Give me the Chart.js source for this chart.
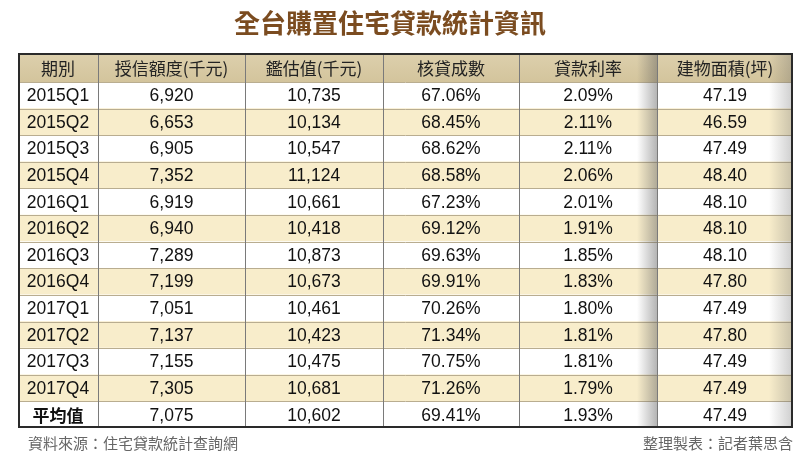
<!DOCTYPE html>
<html>
<head>
<meta charset="utf-8">
<script src="https://cdn.jsdelivr.net/npm/chart.js@4.4.1/dist/chart.umd.min.js"></script>
<style>
  html, body { margin: 0; padding: 0; background: #fff; }
  canvas { display: block; }
</style>
</head>
<body>
<canvas id="loanTable" width="800" height="461"></canvas>
<script>
// Table data
const headers = ['期別', '授信額度(千元)', '鑑估值(千元)', '核貸成數', '貸款利率', '建物面積(坪)'];
const periods = ['2015Q1', '2015Q2', '2015Q3', '2015Q4', '2016Q1', '2016Q2',
    '2016Q3', '2016Q4', '2017Q1', '2017Q2', '2017Q3', '2017Q4', '平均值'];
const creditAmount = [6920, 6653, 6905, 7352, 6919, 6940, 7289, 7199, 7051, 7137, 7155, 7305, 7075];
const appraisalValue = [10735, 10134, 10547, 11124, 10661, 10418, 10873, 10673, 10461, 10423, 10475, 10681, 10602];
const loanToValue = [67.06, 68.45, 68.62, 68.58, 67.23, 69.12, 69.63, 69.91, 70.26, 71.34, 70.75, 71.26, 69.41];
const interestRate = [2.09, 2.11, 2.11, 2.06, 2.01, 1.91, 1.85, 1.83, 1.80, 1.81, 1.81, 1.79, 1.93];
const floorArea = [47.19, 46.59, 47.49, 48.40, 48.10, 48.10, 48.10, 47.80, 47.49, 47.80, 47.49, 47.49, 47.49];

const titleText = '全台購置住宅貸款統計資訊';
const sourceText = '資料來源：住宅貸款統計查詢網';
const authorText = '整理製表：記者葉思含';

// Column boundaries along the x scale (layout, table units)
const colEdges = [0, 80, 227, 365, 501, 639, 775];

function withCommas(n) {
    return String(n).replace(/\B(?=(\d{3})+(?!\d))/g, ',');
}

const columns = [
    periods,
    creditAmount.map(withCommas),
    appraisalValue.map(withCommas),
    loanToValue.map(v => v.toFixed(2) + '%'),
    interestRate.map(v => v.toFixed(2) + '%'),
    floorArea.map(v => v.toFixed(2)),
];

const NUM_FONT = '"Liberation Sans", Arial, "Noto Sans CJK TC", sans-serif';
const CJK_FONT = '"Noto Sans CJK TC", "Noto Sans CJK SC", sans-serif';

// Draws the header, grid lines, cell text, shading and footers from the scales
const tablePlugin = {
    id: 'tablePlugin',
    afterDatasetsDraw(chart) {
        const ctx = chart.ctx;
        const x = chart.scales.x;
        const y = chart.scales.y;
        const area = chart.chartArea;
        const headTop = 53;
        const left = x.getPixelForValue(colEdges[0]);
        const right = x.getPixelForValue(colEdges[colEdges.length - 1]);
        const rowH = y.getPixelForValue(1) - y.getPixelForValue(0);

        ctx.save();

        // header background
        const hg = ctx.createLinearGradient(0, headTop, 0, area.top);
        hg.addColorStop(0, '#ddd0ad');
        hg.addColorStop(1, '#d3c49c');
        ctx.fillStyle = hg;
        ctx.fillRect(left, headTop, right - left, area.top - headTop);

        // row separators
        ctx.strokeStyle = '#b9ad90';
        ctx.lineWidth = 1;
        for (let i = 0; i < periods.length; i++) {
            const yy = Math.round(y.getPixelForValue(i) - rowH / 2) + 0.5;
            ctx.beginPath();
            ctx.moveTo(left, yy);
            ctx.lineTo(right, yy);
            ctx.stroke();
        }

        // shading near the last column
        const s1x = x.getPixelForValue(colEdges[5]);
        const g1 = ctx.createLinearGradient(s1x - 20, 0, s1x, 0);
        g1.addColorStop(0, 'rgba(90,90,90,0)');
        g1.addColorStop(1, 'rgba(90,90,90,0.45)');
        ctx.fillStyle = g1;
        ctx.fillRect(s1x - 20, headTop, 20, area.bottom - headTop);
        const g2 = ctx.createLinearGradient(right - 24, 0, right, 0);
        g2.addColorStop(0, 'rgba(90,90,90,0)');
        g2.addColorStop(1, 'rgba(90,90,90,0.3)');
        ctx.fillStyle = g2;
        ctx.fillRect(right - 24, headTop, 24, area.bottom - headTop);

        // column separators
        ctx.strokeStyle = '#7a7a7a';
        for (let c = 1; c < colEdges.length - 1; c++) {
            const xx = Math.round(x.getPixelForValue(colEdges[c])) + 0.5;
            ctx.beginPath();
            ctx.moveTo(xx, headTop);
            ctx.lineTo(xx, area.bottom);
            ctx.stroke();
        }

        // outer border
        ctx.strokeStyle = '#2a2a2a';
        ctx.lineWidth = 2;
        ctx.strokeRect(left + 1, headTop + 1, right - left - 2, area.bottom - headTop - 2);

        // header text
        ctx.textAlign = 'center';
        ctx.textBaseline = 'middle';
        ctx.fillStyle = '#222';
        ctx.font = '17px ' + CJK_FONT;
        headers.forEach((h, c) => {
            const cx = x.getPixelForValue((colEdges[c] + colEdges[c + 1]) / 2);
            ctx.fillText(h, cx, (headTop + area.top) / 2 + 1);
        });

        // cell text
        ctx.fillStyle = '#111';
        columns.forEach((col, c) => {
            const cx = x.getPixelForValue((colEdges[c] + colEdges[c + 1]) / 2);
            col.forEach((txt, r) => {
                const cy = y.getPixelForValue(r) + 1;
                if (c === 0 && r === periods.length - 1) {
                    ctx.font = 'bold 17px ' + CJK_FONT;
                } else {
                    ctx.font = '17.5px ' + NUM_FONT;
                }
                ctx.fillText(txt, cx, cy);
            });
        });

        // title
        ctx.fillStyle = '#7b4c20';
        ctx.font = 'bold 26px ' + CJK_FONT;
        ctx.fillText(titleText, 390, 23);

        // footers
        ctx.fillStyle = '#666';
        ctx.font = '15px ' + CJK_FONT;
        ctx.textAlign = 'left';
        ctx.fillText(sourceText, 28, 443);
        ctx.textAlign = 'right';
        ctx.fillText(authorText, 793, 443);

        ctx.restore();
    },
};

function createLoanTable() {
    const ctx = document.getElementById('loanTable').getContext('2d');
    new Chart(ctx, {
        type: 'bar',
        data: {
            labels: periods,
            datasets: [
                {
                    // one full-width band per row gives the striped background
                    data: periods.map(() => [colEdges[0], colEdges[colEdges.length - 1]]),
                    backgroundColor: periods.map((p, i) => (i % 2 === 1 ? '#f8edcb' : '#ffffff')),
                    borderWidth: 0,
                    barPercentage: 1,
                    categoryPercentage: 1,
                },
            ],
        },
        options: {
            indexAxis: 'y',
            responsive: false,
            animation: false,
            layout: {
                padding: { left: 18, right: 7, top: 82, bottom: 33 },
            },
            scales: {
                x: { type: 'linear', display: false, min: colEdges[0], max: colEdges[colEdges.length - 1] },
                y: { type: 'category', display: false },
            },
            plugins: {
                legend: { display: false },
                tooltip: { enabled: false },
                title: { display: false },
            },
        },
        plugins: [tablePlugin],
    });
}

document.addEventListener('DOMContentLoaded', function () {
    createLoanTable();
});
</script>
</body>
</html>
